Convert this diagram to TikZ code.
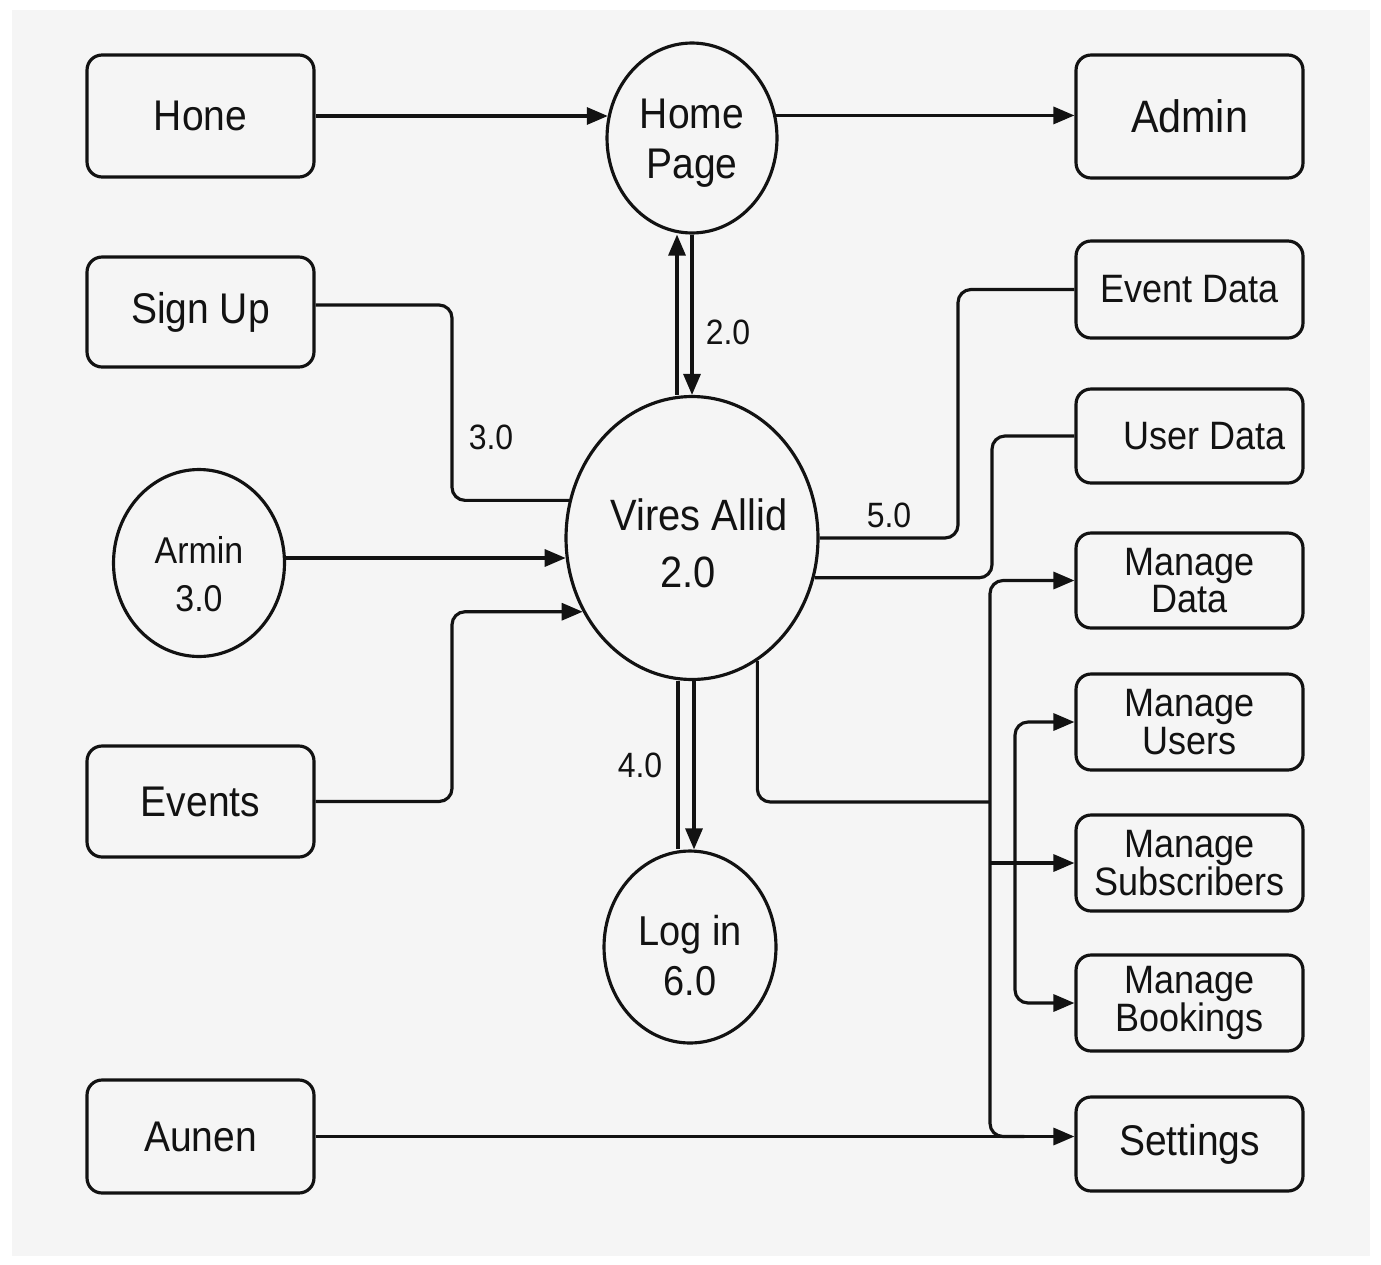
\documentclass[tikz,border=0pt]{standalone}
\usepackage{graphicx}
\usepackage{fontspec}
\setmainfont{Liberation Sans}
\usetikzlibrary{arrows.meta,shapes.geometric,calc}

\definecolor{paper}{HTML}{F5F5F5}
\definecolor{ink}{HTML}{121212}

% slightly tall lettering, and a strut that lowers a text block
\newcommand\tx[1]{\scalebox{1}[1.1]{#1}}
\newcommand\dn[1]{\rule{0pt}{#1}}

\tikzset{
  flow/.style={draw=ink, line width=1.8pt},
  arr/.style={flow, -{Triangle[length=0.42cm,width=0.34cm]}},
  rc/.style={rounded corners=0.26cm},
  box/.style={draw=ink, fill=paper, line width=1.8pt, rounded corners=0.3cm,
    minimum width=4.54cm, inner sep=0pt, align=center, text=ink},
  proc/.style={draw=ink, fill=paper, ellipse, line width=1.8pt,
    inner xsep=-0.4cm, inner ysep=-0.3cm, align=center, text=ink},
  fxl/.style={font=\fontsize{23.5pt}{28pt}\selectfont},
  fl/.style={font=\fontsize{22.2pt}{28pt}\selectfont},
  fm/.style={font=\fontsize{20.5pt}{21.5pt}\selectfont},
  lbl/.style={font=\fontsize{18.2pt}{20pt}\selectfont, text=ink, inner sep=0pt},
}

\begin{document}
\begin{tikzpicture}[x=0.02cm, y=-0.02cm]
  % page
  \fill[white] (0,0) rectangle (1381,1264);
  \fill[paper] (12,10) rectangle (1370,1256);
  \useasboundingbox (0,0) rectangle (1381,1264);

  % left column
  \node[box, fl, minimum height=2.44cm] (hone)   at (200.5,116)   {\tx{Hone}};
  \node[box, fl, minimum height=2.2cm]  (signup) at (200.5,312)   {\tx{Sign Up}};
  \node[proc, font=\fontsize{19.3pt}{27pt}\selectfont,
        minimum width=3.42cm, minimum height=3.74cm] (armin) at (199,563)
        {\dn{0.98cm}\tx{Armin}\\\tx{3.0}};
  \node[box, fl, minimum height=2.22cm] (events) at (200.5,801.5) {\tx{Events}};
  \node[box, fl, minimum height=2.26cm] (aunen)  at (200.5,1136.5) {\tx{Aunen}};

  % processes
  \node[proc, font=\fontsize{22.2pt}{28.3pt}\selectfont,
        minimum width=3.4cm, minimum height=3.8cm] (home) at (692,138)
        {\dn{0.8cm}\tx{Home}\\\tx{Page}};
  \node[proc, font=\fontsize{22.7pt}{32.3pt}\selectfont,
        minimum width=5.04cm, minimum height=5.66cm] (vires) at (692,538)
        {\dn{0.84cm}\hspace*{0.28cm}\tx{Vires Allid}\\\tx{2.0}\hspace*{0.16cm}};
  \node[proc, font=\fontsize{21.6pt}{28.3pt}\selectfont,
        minimum width=3.44cm, minimum height=3.84cm] (login) at (690,947)
        {\dn{0.94cm}\tx{Log in}\\\tx{6.0}};

  % right column
  \node[box, fxl, minimum height=2.46cm] (admin)       at (1189.5,116.5) {\tx{Admin}};
  \node[box, fm, minimum height=1.94cm]  (eventdata)   at (1189.5,289.5) {\tx{Event Data}};
  \node[box, fm, minimum height=1.88cm]  (userdata)    at (1189.5,436)
        {\hspace*{0.6cm}\tx{User Data}};
  \node[box, fm, minimum height=1.9cm]   (managedata)  at (1189.5,580.5) {\tx{Manage}\\\tx{Data}};
  \node[box, fm, minimum height=1.92cm]  (manageusers) at (1189.5,722)   {\tx{Manage}\\\tx{Users}};
  \node[box, fm, minimum height=1.92cm]  (managesubs)  at (1189.5,863)   {\tx{Manage}\\\tx{Subscribers}};
  \node[box, fm, minimum height=1.92cm]  (managebook)  at (1189.5,1003)  {\tx{Manage}\\\tx{Bookings}};
  \node[box, fl, minimum height=1.88cm]  (settings)    at (1189.5,1144)  {\tx{Settings}};

  % bend columns
  \coordinate (xl)   at (452,0);
  \coordinate (xr1)  at (958,0);
  \coordinate (xr2)  at (992,0);
  \coordinate (bus)  at (990,0);
  \coordinate (bus2) at (1015,0);
  \coordinate (tap)  at (990,802);

  % top row
  \draw[arr] (hone.east) -- (hone.east -| home.165);
  \draw[arr] (home.15) -- (home.15 -| admin.west);

  % home page <-> main process
  \draw[arr] ([xshift=-0.3cm]vires.north) -- ([xshift=-0.3cm]home.south);
  \draw[arr] (home.south) -- (vires.north);
  \node[lbl] (l2) at (728,332) {\tx{2.0}};

  % inputs from the left
  \draw[flow, rc] ([yshift=0.14cm]signup.east) -| (xl |- vires.163) -- (vires.163);
  \node[lbl] (l3) at (491,437) {\tx{3.0}};
  \draw[arr] (vires.189 -| armin.east) -- (vires.189);
  \draw[arr, rc] (events.east) -| (xl |- vires.214) -- (vires.214);

  % main process -> log in
  \draw[flow] ([xshift=-0.28cm]vires.south) -- ([xshift=-0.28cm]vires.south |- login.north);
  \draw[arr]  ([xshift=0.04cm]vires.south) -- ([xshift=0.04cm]vires.south |- login.north);
  \node[lbl] (l4) at (640,765) {\tx{4.0}};

  % data stores
  \draw[flow, rc] (vires.east) -| (xr1 |- eventdata.west) -- (eventdata.west);
  \draw[flow, rc] (vires.-18) -| (xr2 |- userdata.west) -- (userdata.west);
  \node[lbl] (l5) at (889,515) {\tx{5.0}};

  % management bus
  \draw[flow, rc] (vires.-62) |- (tap);
  \draw[arr, rc] ($(aunen.east -| settings.west)+(-50,0)$) -| (bus |- managedata.west)
        -- (managedata.west);
  \draw[arr] (bus |- managesubs.west) -- (managesubs.west);
  \draw[arr, rc] (bus2 |- managesubs.west) |- (manageusers.west);
  \draw[arr, rc] (bus2 |- managesubs.west) |- (managebook.west);

  % bottom row
  \draw[arr] (aunen.east) -- (aunen.east -| settings.west);
\end{tikzpicture}
\end{document}
